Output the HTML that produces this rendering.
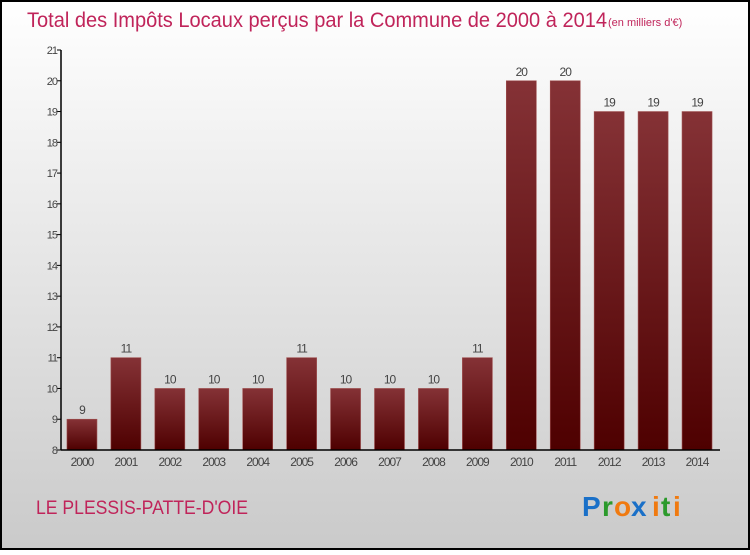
<!DOCTYPE html>
<html><head><meta charset="utf-8"><style>
body{margin:0;width:750px;height:550px;overflow:hidden;font-family:"Liberation Sans",sans-serif}
</style></head><body>
<svg width="750" height="550" xmlns="http://www.w3.org/2000/svg" id="svg">
<defs>
<linearGradient id="bg" x1="0" y1="0" x2="0" y2="1"><stop offset="0" stop-color="#ffffff"/><stop offset="1" stop-color="#cacaca"/></linearGradient>
<linearGradient id="bar" x1="0" y1="0" x2="0" y2="1"><stop offset="0" stop-color="#853236"/><stop offset="1" stop-color="#4e0000"/></linearGradient>
</defs>
<rect x="1" y="1" width="748" height="548" fill="url(#bg)" stroke="#000" stroke-width="2"/>
<text x="27" y="27" font-size="21" fill="#c0245a" textLength="580" lengthAdjust="spacingAndGlyphs">Total des Impôts Locaux perçus par la Commune de 2000 à 2014</text>
<text x="608" y="26" font-size="11" fill="#c0245a">(en milliers d'€)</text>
<g id="plot"></g>
<text x="36" y="514" font-size="19" fill="#c0245a" textLength="212" lengthAdjust="spacingAndGlyphs">LE PLESSIS-PATTE-D'OIE</text>
<g font-size="28" font-weight="bold" font-family="Liberation Sans,sans-serif">
<text x="582" y="516" fill="#1a70c8">P</text><text x="602" y="516" fill="#2c9a2c">r</text><text x="614" y="516" fill="#f07a10">o</text><text x="631" y="516" fill="#1a70c8">x</text><text x="652" y="516" fill="#f07a10">i</text><text x="661" y="516" fill="#2c9a2c">t</text><text x="673" y="516" fill="#f07a10">i</text>
</g>
</svg>
<script>
const years=["2000","2001","2002","2003","2004","2005","2006","2007","2008","2009","2010","2011","2012","2013","2014"];
const values=[9,11,10,10,10,11,10,10,10,11,20,20,19,19,19];
const yTicks=[8,9,10,11,12,13,14,15,16,17,18,19,20,21];
const NS="http://www.w3.org/2000/svg";
const g=document.getElementById('plot');
const yMin=8,yMax=21,yTop=50,yBot=450,x0=61,x1=720;
const y=v=>yBot-(v-yMin)/(yMax-yMin)*(yBot-yTop);
const step=(x1-x0)/years.length;
const xc=i=>x0+step*(i+0.5)-1;
function mk(t,a){const e=document.createElementNS(NS,t);for(const k in a)e.setAttribute(k,a[k]);g.appendChild(e);return e;}
yTicks.forEach(v=>{
 const l=mk('line',{x1:x0-4,x2:x0,y1:y(v),y2:y(v),stroke:'#000'});
 
 
 const t=mk('text',{x:x0-4,y:y(v)+4,'font-size':11,fill:'#444','text-anchor':'end','letter-spacing':'-1'});
 t.textContent=v;
 
 
});
years.forEach((yr,i)=>{
 const v=values[i];
 const r=mk('rect',{x:xc(i)-15,y:y(v),width:30,height:yBot-y(v),fill:'url(#bar)',stroke:'#a05050','stroke-width':0.6});
 
 
 const lv=mk('text',{x:xc(i),y:y(v)-5,'font-size':12,fill:'#444','text-anchor':'middle','letter-spacing':'-1'});
 lv.textContent=v;
 
 
 const lx=mk('text',{x:xc(i),y:466,'font-size':12,fill:'#444','text-anchor':'middle','letter-spacing':'-1'});
 lx.textContent=yr;
 
 
});
const ya=mk('line',{x1:x0,x2:x0,y1:yTop,y2:yBot,stroke:'#000','stroke-width':1.5});


const xa=mk('line',{x1:x0,x2:x1,y1:yBot,y2:yBot,stroke:'#000','stroke-width':1.5});


</script>
</body></html>
